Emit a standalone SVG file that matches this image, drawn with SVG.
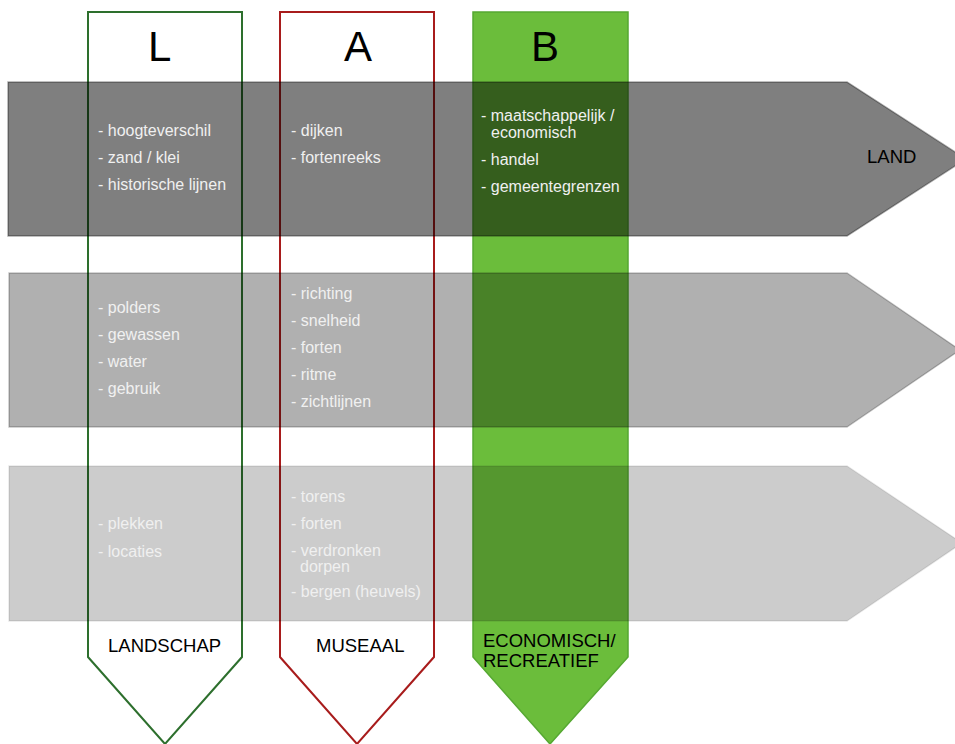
<svg xmlns="http://www.w3.org/2000/svg" width="955" height="744" viewBox="0 0 955 744">
<style>
  .head { font-family: "Liberation Sans", Arial, sans-serif; font-size: 42px; fill: #000; }
  .item { font-family: "Liberation Sans", Arial, sans-serif; font-size: 16px; fill: #f0f0f0; }
  .lbl { font-family: "Liberation Sans", Arial, sans-serif; font-size: 18.5px; fill: #000; }
  .lblB { font-family: "Liberation Sans", Arial, sans-serif; font-size: 18.5px; fill: #000; }
</style>
<rect width="955" height="744" fill="#ffffff"/>
<g id="column-L">
  <polygon points="88,12 242,12 242,657 165,744 88,657" fill="#ffffff" stroke="#2d6f2d" stroke-width="2"/>
  <text class="head" x="148" y="61">L</text>
  <text class="lbl" x="108" y="652">LANDSCHAP</text>
</g>
<g id="column-A">
  <polygon points="280,12 434,12 434,657 357,744 280,657" fill="#ffffff" stroke="#a81c1c" stroke-width="2"/>
  <text class="head" x="344" y="61">A</text>
  <text class="lbl" x="316" y="652">MUSEAAL</text>
</g>
<g id="column-B">
  <polygon points="473,12 628,12 628,657 550,744 473,657" fill="#6bbd3b" stroke="#56a832" stroke-width="1.5"/>
  <text class="head" x="531" y="61">B</text>
  <text class="lblB" x="483" y="647">ECONOMISCH/</text>
  <text class="lblB" x="483" y="667">RECREATIEF</text>
</g>
<g id="connectors"></g>
<g id="arrow-land">
  <polygon points="8,82 847,82 966,159 847,236 8,236" fill="#000" fill-opacity="0.5" stroke="#000" stroke-opacity="0.33" stroke-width="1.5"/>
  <text class="lbl" x="867" y="163">LAND</text>
  <text class="item" x="98" y="136">- hoogteverschil</text>
  <text class="item" x="98" y="163">- zand / klei</text>
  <text class="item" x="98" y="190">- historische lijnen</text>
  <text class="item" x="291" y="136">- dijken</text>
  <text class="item" x="291" y="163">- fortenreeks</text>
  <text class="item" x="481" y="121">- maatschappelijk /</text>
  <text class="item" x="491" y="138">economisch</text>
  <text class="item" x="481" y="165">- handel</text>
  <text class="item" x="481" y="192">- gemeentegrenzen</text>
</g>
<g id="arrow-middle">
  <polygon points="9,273 847,273 960,350 847,427 9,427" fill="#000" fill-opacity="0.31" stroke="#000" stroke-opacity="0.22" stroke-width="1.5"/>
  <text class="item" x="98" y="313">- polders</text>
  <text class="item" x="98" y="340">- gewassen</text>
  <text class="item" x="98" y="367">- water</text>
  <text class="item" x="98" y="394">- gebruik</text>
  <text class="item" x="291" y="299">- richting</text>
  <text class="item" x="291" y="326">- snelheid</text>
  <text class="item" x="291" y="353">- forten</text>
  <text class="item" x="291" y="380">- ritme</text>
  <text class="item" x="291" y="407">- zichtlijnen</text>
</g>
<g id="arrow-bottom">
  <polygon points="9,466 847,466 962,543 847,621 9,621" fill="#000" fill-opacity="0.2" stroke="#000" stroke-opacity="0.09" stroke-width="1.5"/>
  <text class="item" x="98" y="529">- plekken</text>
  <text class="item" x="98" y="557">- locaties</text>
  <text class="item" x="291" y="502">- torens</text>
  <text class="item" x="291" y="529">- forten</text>
  <text class="item" x="291" y="556">- verdronken</text>
  <text class="item" x="300" y="572">dorpen</text>
  <text class="item" x="291" y="597">- bergen (heuvels)</text>
</g>
</svg>
